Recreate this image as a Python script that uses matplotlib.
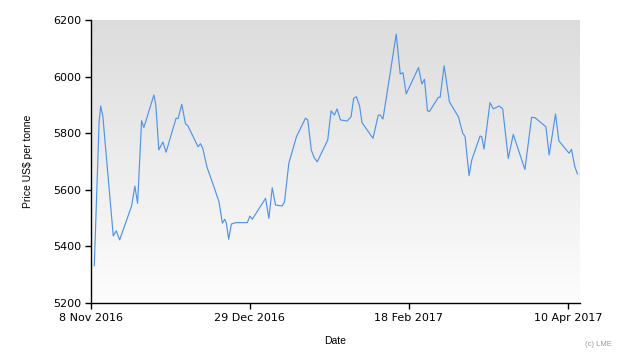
import numpy as np
import pandas as pd
import matplotlib
matplotlib.use("Agg")
import matplotlib.pyplot as plt

start_date = "2016-11-08"
day_offsets = [1.06, 2.60, 3.10, 3.80, 7.14, 8.10, 9.19, 13.03, 14.08, 14.95, 16.23, 16.97,
               20.17, 20.80, 21.77, 23.05, 24.10, 27.30, 27.95, 29.13, 30.31, 31.05, 34.35,
               35.12, 35.85, 37.23, 39.37, 41.07, 42.16, 42.89, 43.44, 44.17, 45.04,
               46.41, 50.16, 50.99, 51.76, 56.02, 57.07, 58.16, 59.22, 61.36, 62.10,
               63.48, 65.94, 68.82, 69.56, 70.70, 71.70, 72.60, 75.96, 77.05, 78.10,
               78.97, 80.03, 82.17, 83.45, 84.28, 85.15, 86.20, 86.97, 90.49, 92.19,
               92.83, 93.69, 97.95, 99.23, 100.10, 101.15, 105.09, 106.18, 107.01, 107.97,
               108.61, 111.49, 112.04, 113.32, 115.01, 117.89, 119.30, 120.04, 121.32, 122.18,
               124.84, 125.38, 126.12, 128.04, 129.10, 131.02, 132.11, 133.90, 135.50, 139.24,
               141.39, 142.45, 145.97, 147.02, 149.07, 150.13, 153.43, 154.19, 155.25, 156.11]
prices = [5332, 5840, 5896, 5860, 5437, 5455, 5423, 5543, 5613, 5552, 5844, 5820,
          5935, 5900, 5741, 5769, 5733, 5853, 5852, 5902, 5833, 5827, 5752,
          5763, 5747, 5680, 5613, 5558, 5482, 5496, 5482, 5425, 5479,
          5484, 5484, 5507, 5496, 5570, 5499, 5607, 5546, 5543, 5558,
          5694, 5788, 5853, 5847, 5740, 5712, 5699, 5776, 5879, 5864,
          5886, 5847, 5843, 5858, 5923, 5929, 5896, 5837, 5782, 5864,
          5864, 5850, 6150, 6009, 6014, 5939, 6032, 5974, 5990, 5879,
          5877, 5927, 5927, 6038, 5911, 5858, 5800, 5788, 5650, 5705,
          5790, 5788, 5744, 5908, 5886, 5896, 5886, 5711, 5796, 5672,
          5856, 5855, 5823, 5723, 5868, 5773, 5729, 5743, 5682, 5656]
x_tick_labels = ["8 Nov 2016", "29 Dec 2016", "18 Feb 2017", "10 Apr 2017"]
y_ticks = [5200, 5400, 5600, 5800, 6000, 6200]

dates = pd.Timestamp(start_date) + pd.to_timedelta(day_offsets, unit="D")
tick_dates = pd.to_datetime(x_tick_labels, format="%d %b %Y")

fig = plt.figure(figsize=(6.3, 3.6), dpi=100)
ax = fig.add_axes([91/630, 1 - 303/360, 489/630, 283/360])

# gradient background (dark top, light bottom)
grad = np.linspace(0, 1, 256).reshape(-1, 1)
cmap = matplotlib.colors.LinearSegmentedColormap.from_list("bg", ["#dcdcdc", "#fdfdfd"])
ax.imshow(grad, aspect="auto", cmap=cmap, extent=[0, 1, 0, 1], origin="upper",
          transform=ax.transAxes, zorder=0)

ax.plot(dates, prices, color="#4f94ea", lw=0.85, zorder=2, solid_joinstyle="round")

ax.set_xlim(pd.Timestamp(start_date), pd.Timestamp("2017-04-13 22:00"))
ax.set_ylim(5200, 6200)
ax.set_yticks(y_ticks)
ax.set_xticks(tick_dates)
ax.set_xticklabels(x_tick_labels)

for s in ["top", "right"]:
    ax.spines[s].set_visible(False)
for s in ["left", "bottom"]:
    ax.spines[s].set_color("black")
    ax.spines[s].set_linewidth(1.0)

ax.tick_params(axis="both", direction="out", length=4, width=1, color="black",
               labelsize=8, labelcolor="black", pad=3)
for lab in ax.get_xticklabels() + ax.get_yticklabels():
    lab.set_family("DejaVu Sans")

ax.set_ylabel("Price US$ per tonne", fontsize=7.5, family="Liberation Sans")
ax.yaxis.set_label_coords(-0.118, 0.5)
ax.set_xlabel("Date", fontsize=7.5, family="Liberation Sans")
ax.xaxis.set_label_coords(0.5, -0.115)

fig.text(598/630, 1 - 345/360, "(c) LME", fontsize=5.5, color="#999999",
         ha="center", va="center", family="Liberation Sans")

fig.savefig("out.png", dpi=100)
